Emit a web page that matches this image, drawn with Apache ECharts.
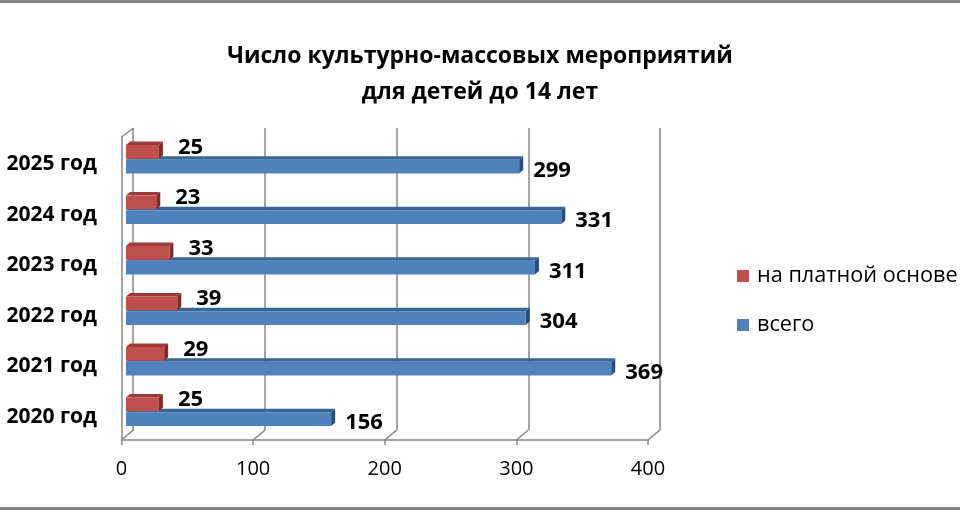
<!DOCTYPE html>
<html>
<head>
<meta charset="utf-8">
<script src="https://cdn.jsdelivr.net/npm/echarts@6/dist/echarts.min.js"></script>
<style>
  html, body { margin: 0; padding: 0; background: #fff; }
  #wrap { position: relative; width: 960px; height: 510px; }
  #chart { width: 960px; height: 510px; }
  .bline { position: absolute; left: 0; width: 960px; height: 3px; background: #858585; }
</style>
</head>
<body>
<div id="wrap">
  <div id="chart"></div>
  <div class="bline" style="top:0"></div>
  <div class="bline" style="bottom:0"></div>
</div>
<script>
const titleText = 'Число культурно-массовых мероприятий\nдля детей до 14 лет';
const categories = ['2020 год', '2021 год', '2022 год', '2023 год', '2024 год', '2025 год'];
const paidValues = [25, 29, 39, 33, 23, 25];
const totalValues = [156, 369, 304, 311, 331, 299];
const seriesNames = ['на платной основе', 'всего'];
const xTicks = [0, 100, 200, 300, 400];

const FONT = 'Open Sans';
const GRID_COLOR = '#868686';
const palette = {
  red: { front: '#C0504D', top: '#9E3B38', side: '#7F2B29' },
  blue: { front: '#4F81BD', top: '#3A6596', side: '#264E7E' }
};
const DX = 4, DY = 3.5;

function makeBarRender(col, isUpper) {
  return function (params, api) {
    const val = api.value(0);
    const idx = api.value(1);
    const p0 = api.coord([0, idx]);
    const p1 = api.coord([val, idx]);
    const band = api.size([0, 1])[1];
    const h = band * 0.27;
    const cy = p0[1];
    const yTop = isUpper ? cy - h - 0.5 : cy + 0.5;
    const yBot = yTop + h;
    const x0 = p0[0], x1 = p1[0];
    const children = [
      { type: 'polygon', shape: { points: [[x0, yTop], [x0 + DX, yTop - DY], [x1 + DX, yTop - DY], [x1, yTop]] }, style: { fill: col.top } },
      { type: 'polygon', shape: { points: [[x1, yTop], [x1 + DX, yTop - DY], [x1 + DX, yBot - DY], [x1, yBot]] }, style: { fill: col.side } },
      { type: 'rect', shape: { x: x0, y: yTop, width: x1 - x0, height: h }, style: { fill: col.front } },
      {
        type: 'text',
        style: {
          text: String(val),
          x: isUpper ? x1 + DX + 15 : x1 + DX + 10,
          y: isUpper ? cy - 12 : cy + 11,
          align: 'left', verticalAlign: 'middle',
          fontFamily: FONT, fontWeight: 'bold', fontSize: 22, fill: '#000'
        }
      }
    ];
    return { type: 'group', children: children };
  };
}

function frameRender(params, api) {
  const v = api.value(0);
  const p = api.coord([v, 0]);
  const band = api.size([0, 1])[1];
  const yBase = p[1] + band / 2;
  const children = [
    { type: 'line', shape: { x1: p[0], y1: yBase, x2: p[0] + 12, y2: yBase - 10 }, style: { stroke: GRID_COLOR, lineWidth: 1.5 } }
  ];
  if (v === 0) {
    const yTopEnd = yBase - band * categories.length;
    children.push({ type: 'line', shape: { x1: p[0], y1: yTopEnd, x2: p[0] + 12, y2: yTopEnd - 9 }, style: { stroke: GRID_COLOR, lineWidth: 1.5 } });
  }
  return { type: 'group', children: children };
}

const chart = echarts.init(document.getElementById('chart'));
chart.setOption({
  animation: false,
  backgroundColor: '#fff',
  title: {
    text: titleText,
    left: 'center',
    top: 33,
    textStyle: { fontFamily: FONT, fontWeight: 'bold', fontSize: 23, lineHeight: 36, color: '#000' }
  },
  legend: {
    data: seriesNames,
    orient: 'vertical',
    left: 732,
    top: 259,
    itemWidth: 12,
    itemHeight: 12,
    itemGap: 25,
    icon: 'rect',
    textStyle: { fontFamily: FONT, fontSize: 21.7, lineHeight: 24, color: '#000', padding: [0, 0, 0, 3] }
  },
  grid: [
    { left: 126, right: 308, top: 134, bottom: 73 },      // bar plane
    { left: 133, right: 300, top: 128, bottom: 80 },      // back wall
    { left: 121.5, right: 312, top: 137, bottom: 70 }     // front frame
  ],
  xAxis: [
    { gridIndex: 0, type: 'value', min: 0, max: 400, interval: 100, show: false },
    { gridIndex: 1, type: 'value', min: 0, max: 400, interval: 100,
      axisLine: { show: false }, axisTick: { show: false }, axisLabel: { show: false },
      splitLine: { show: true, lineStyle: { color: GRID_COLOR, width: 1.5 } } },
    { gridIndex: 2, type: 'value', min: 0, max: 400, interval: 100,
      axisLine: { show: true, lineStyle: { color: GRID_COLOR, width: 1.5 } },
      axisTick: { show: true, length: 5, lineStyle: { color: GRID_COLOR, width: 1.5 } },
      axisLabel: { show: true, margin: 19, fontFamily: FONT, fontSize: 20, color: '#000' },
      splitLine: { show: false } }
  ],
  yAxis: [
    { gridIndex: 0, type: 'category', data: categories,
      axisLine: { show: false }, axisTick: { show: false },
      axisLabel: { margin: 29, verticalAlign: 'top', lineHeight: 10, fontFamily: FONT, fontWeight: 'bold', fontSize: 21, color: '#000' } },
    { gridIndex: 1, type: 'category', data: categories, show: false },
    { gridIndex: 2, type: 'category', data: categories,
      axisLine: { show: true, lineStyle: { color: GRID_COLOR, width: 1.5 } },
      axisTick: { show: false }, axisLabel: { show: false } }
  ],
  series: [
    {
      name: 'frame', type: 'custom', xAxisIndex: 2, yAxisIndex: 2,
      data: xTicks.map(v => [v]),
      renderItem: frameRender, silent: true, z: 1
    },
    {
      name: seriesNames[1], type: 'custom', xAxisIndex: 0, yAxisIndex: 0,
      itemStyle: { color: palette.blue.front },
      data: totalValues.map((v, i) => [v, i]),
      encode: { x: 0, y: 1 },
      renderItem: makeBarRender(palette.blue, false), z: 3
    },
    {
      name: seriesNames[0], type: 'custom', xAxisIndex: 0, yAxisIndex: 0,
      itemStyle: { color: palette.red.front },
      data: paidValues.map((v, i) => [v, i]),
      encode: { x: 0, y: 1 },
      renderItem: makeBarRender(palette.red, true), z: 4
    }
  ]
});
</script>
</body>
</html>
